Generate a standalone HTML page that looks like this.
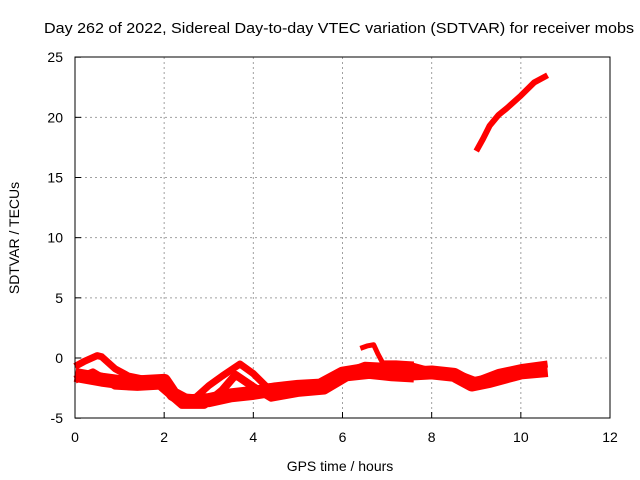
<!DOCTYPE html>
<html><head><meta charset="utf-8"><style>
body{margin:0;background:#fff;}
svg{display:block;font-family:"Liberation Sans",sans-serif;}
</style></head><body>
<svg id="chart" width="640" height="480">
<text x="44" y="33" font-size="15" textLength="590" lengthAdjust="spacingAndGlyphs">Day 262 of 2022, Sidereal Day-to-day VTEC variation (SDTVAR) for receiver mobs</text>
<text x="340" y="471" font-size="14" text-anchor="middle">GPS time / hours</text>
<text transform="translate(19,238) rotate(-90)" font-size="14" text-anchor="middle">SDTVAR / TECUs</text>
<g id="grid"></g><g id="ticks"></g><g id="series"></g>
<rect x="75" y="57" width="535" height="361" fill="none" stroke="#000" stroke-width="1"/>
</svg>
<script>
const xTicks=[0,2,4,6,8,10,12];
const yTicks=[-5,0,5,10,15,20,25];
const seriesA_h=[0,0.3,0.6,1,1.5,2,2.2,2.5,3,3.5,4,4.5,5,5.5,6,6.5,7,7.5,8,8.5,8.9,9.3,9.7,10,10.6];
const seriesA_v=[-1.4,-1.6,-1.8,-2.0,-2.0,-1.9,-3,-3.6,-3.5,-3.1,-2.9,-2.6,-2.4,-2.3,-1.3,-1.0,-1.2,-1.3,-1.2,-1.4,-2.2,-1.9,-1.5,-1.2,-1.0];
const seriesB_h=[0,0.2,0.5,0.6,0.9,1.2,1.6,2,2.3,2.7,3,3.3,3.7,4,4.3,4.8,5.3,6,6.5,7,7.5,8,8.5,9,9.5,10,10.6];
const seriesB_v=[-0.7,-0.3,0.2,0.1,-0.9,-1.5,-1.8,-1.9,-3.2,-3.3,-2.3,-1.5,-0.5,-1.3,-2.4,-2.3,-2.5,-1.3,-0.6,-0.7,-0.6,-1.1,-1.2,-1.9,-1.2,-0.8,-0.5];
const seriesC_h=[0,0.4,0.9,1.4,1.9,2.4,2.9,3.3,3.6,4,4.4,5,5.6,6.1,6.6,7.1,7.6];
const seriesC_v=[-1.8,-1.2,-2.3,-2.4,-2.3,-3.9,-3.9,-2.7,-1.4,-2.4,-3.3,-2.9,-2.7,-1.6,-1.4,-1.6,-1.7];
const seriesD_h=[6.4,6.55,6.7,6.8,6.9,7.2,7.6];
const seriesD_v=[0.8,1.0,1.1,0.3,-0.4,-0.4,-0.5];
const seriesE_h=[9,9.15,9.3,9.5,9.7,10,10.3,10.6];
const seriesE_v=[17.2,18.2,19.3,20.2,20.8,21.8,22.9,23.5];
const X=h=>75+h*535/12, Y=v=>358-v*361/30;
const NS="http://www.w3.org/2000/svg";
const grid=document.getElementById('grid'),ticks=document.getElementById('ticks'),ser=document.getElementById('series');
function mk(tag,attrs,parent){const e=document.createElementNS(NS,tag);for(const k in attrs)e.setAttribute(k,attrs[k]);parent.appendChild(e);return e;}
xTicks.forEach(t=>{const x=X(t);
 if(t>0&&t<12){const g=mk('line',{x1:x,x2:x,y1:57,y2:418,stroke:'#a0a0a0','stroke-dasharray':'2,3'},grid);
 
 }
 const l=mk('line',{x1:x,x2:x,y1:418,y2:412,stroke:'#000'},ticks);
 
 
 const tx=mk('text',{x:x,y:442,'font-size':14,'text-anchor':'middle'},ticks);tx.textContent=t;
 
 
});
yTicks.forEach(t=>{const y=Y(t);
 if(t>-5&&t<25){const g=mk('line',{x1:75,x2:610,y1:y,y2:y,stroke:'#a0a0a0','stroke-dasharray':'2,3'},grid);
 
 }
 const l=mk('line',{x1:75,x2:81,y1:y,y2:y,stroke:'#000'},ticks);
 
 
 const tx=mk('text',{x:63,y:y+5,'font-size':14,'text-anchor':'end'},ticks);tx.textContent=t;
 
 
});
[[seriesA_h,seriesA_v,14],[seriesB_h,seriesB_v,7],[seriesC_h,seriesC_v,8],[seriesD_h,seriesD_v,5],[seriesE_h,seriesE_v,6]].forEach(([hs,vs,w],i)=>{
 const pts=hs.map((h,j)=>X(h)+','+Y(vs[j])).join(' ');
 const p=mk('polyline',{points:pts,fill:'none',stroke:'#ff0000','stroke-width':w,'stroke-linejoin':'round','stroke-linecap':'butt'},ser);
 
 
});
</script>
</body></html>
